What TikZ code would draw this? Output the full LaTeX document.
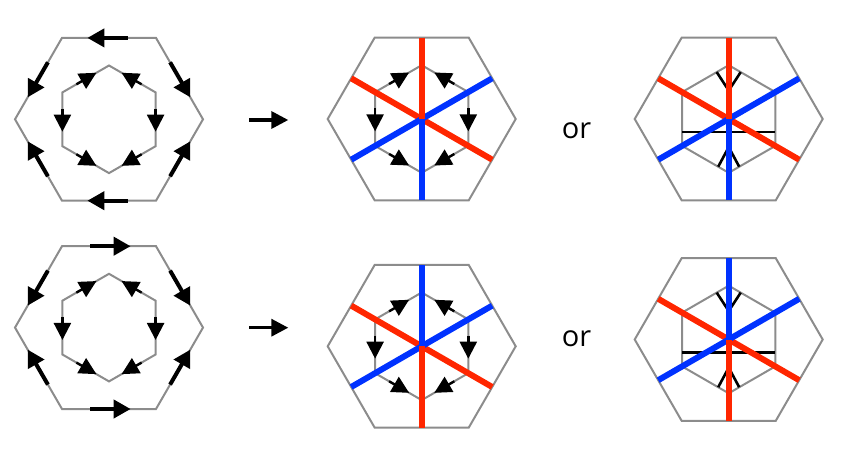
\documentclass[tikz,border=0pt]{standalone}
\usepackage{fontspec}
\setmainfont{Open Sans}
\usetikzlibrary{arrows.meta,calc}
\definecolor{hexgray}{RGB}{140,140,140}
\definecolor{lred}{RGB}{255,38,0}
\definecolor{lblue}{RGB}{0,50,255}
\tikzset{
  hexline/.style={draw=hexgray, line width=2pt, line join=miter},
  bigarrow/.style={draw=black, line width=4pt, -{Triangle[length=17pt,width=18pt]}},
  smallarrow/.style={draw=black, line width=2.4pt, -{Triangle[length=17pt,width=17pt]}},
  trarrow/.style={draw=black, line width=3.4pt, -{Triangle[length=17pt,width=17pt]}},
  redline/.style={draw=lred, line width=6pt},
  blueline/.style={draw=lblue, line width=6pt},
  bond/.style={draw=black, line width=2.6pt},
  ortext/.style={font=\fontsize{29pt}{29pt}\selectfont, inner sep=0pt, anchor=base},
}
\newcommand\mkhex[3]{%
  \coordinate (#1c) at (#2,#3);
  \coordinate (#1TR) at (#2+47,#3-81.4);
  \coordinate (#1TL) at (#2-47,#3-81.4);
  \coordinate (#1L) at (#2-94,#3);
  \coordinate (#1BL) at (#2-47,#3+81.4);
  \coordinate (#1BR) at (#2+47,#3+81.4);
  \coordinate (#1R) at (#2+94,#3);
  \coordinate (#1it) at (#2,#3-53.8);
  \coordinate (#1iul) at (#2-46.6,#3-26.9);
  \coordinate (#1ill) at (#2-46.6,#3+26.9);
  \coordinate (#1ib) at (#2,#3+53.8);
  \coordinate (#1ilr) at (#2+46.6,#3+26.9);
  \coordinate (#1iur) at (#2+46.6,#3-26.9);
  \draw[hexline] (#1TR)--(#1TL)--(#1L)--(#1BL)--(#1BR)--(#1R)--cycle;
  \draw[hexline] (#1it)--(#1iul)--(#1ill)--(#1ib)--(#1ilr)--(#1iur)--cycle;
}
\newcommand\earrow[3]{\draw[#3] ($(#1)!0.3!(#2)$) -- ($(#1)!0.73!(#2)$);}
\newcommand\innerarrows[1]{%
  \earrow{#1iul}{#1it}{smallarrow}
  \earrow{#1iur}{#1it}{smallarrow}
  \earrow{#1iul}{#1ill}{smallarrow}
  \earrow{#1iur}{#1ilr}{smallarrow}
  \earrow{#1ill}{#1ib}{smallarrow}
  \earrow{#1ilr}{#1ib}{smallarrow}
}
\newcommand\outerarrows[1]{%
  \earrow{#1TL}{#1L}{bigarrow}
  \earrow{#1BL}{#1L}{bigarrow}
  \earrow{#1TR}{#1R}{bigarrow}
  \earrow{#1BR}{#1R}{bigarrow}
}
\newcommand\colorlines[3]{%
  \draw[redline] ($(#1c)+(-70.5,-40.7)$) -- ($(#1c)+(70.5,40.7)$);
  \draw[blueline] ($(#1c)+(-70.5,40.7)$) -- ($(#1c)+(70.5,-40.7)$);
  \draw[#2] ($(#1c)+(0,-81.4)$) -- (#1c);
  \draw[#3] (#1c) -- ($(#1c)+(0,81.4)$);
}
\newcommand\bonds[1]{%
  \draw[bond] ($(#1c)+(-46.6,13)$) -- ($(#1c)+(46.6,13)$);
  \draw[bond] ($(#1c)+(-12,-46.9)$) -- ($(#1c)+(-1,-30)$);
  \draw[bond] ($(#1c)+(12,-46.9)$) -- ($(#1c)+(1,-30)$);
  \draw[bond] ($(#1c)+(-10.5,47.7)$) -- ($(#1c)+(-1,30)$);
  \draw[bond] ($(#1c)+(10.5,47.7)$) -- ($(#1c)+(1,30)$);
}
\begin{document}
\begin{tikzpicture}[x=1pt,y=-1pt]
\useasboundingbox (0,0) rectangle (842,457);
% top row
\mkhex{a}{109}{119.3}
\outerarrows{a}
\earrow{aTR}{aTL}{bigarrow}
\earrow{aBR}{aBL}{bigarrow}
\innerarrows{a}
\mkhex{b}{421.7}{119}
\innerarrows{b}
\colorlines{b}{redline}{blueline}
\mkhex{c}{728.7}{119}
\bonds{c}
\colorlines{c}{redline}{blueline}
% bottom row
\mkhex{d}{109}{327.6}
\outerarrows{d}
\earrow{dTL}{dTR}{bigarrow}
\earrow{dBL}{dBR}{bigarrow}
\innerarrows{d}
\mkhex{e}{421.7}{346.3}
\innerarrows{e}
\colorlines{e}{blueline}{redline}
\mkhex{f}{728.7}{339.5}
\bonds{f}
\colorlines{f}{blueline}{redline}
% transition arrows and text
\coordinate (t1s) at (249.3,120);
\coordinate (t1e) at (288.3,120);
\coordinate (t2s) at (249.3,327.7);
\coordinate (t2e) at (288.3,327.7);
\draw[trarrow] (t1s) -- (t1e);
\draw[trarrow] (t2s) -- (t2e);
\node[ortext] (or1) at (576.5,138.3) {or};
\node[ortext] (or2) at (576.5,346.5) {or};
\end{tikzpicture}
\end{document}
